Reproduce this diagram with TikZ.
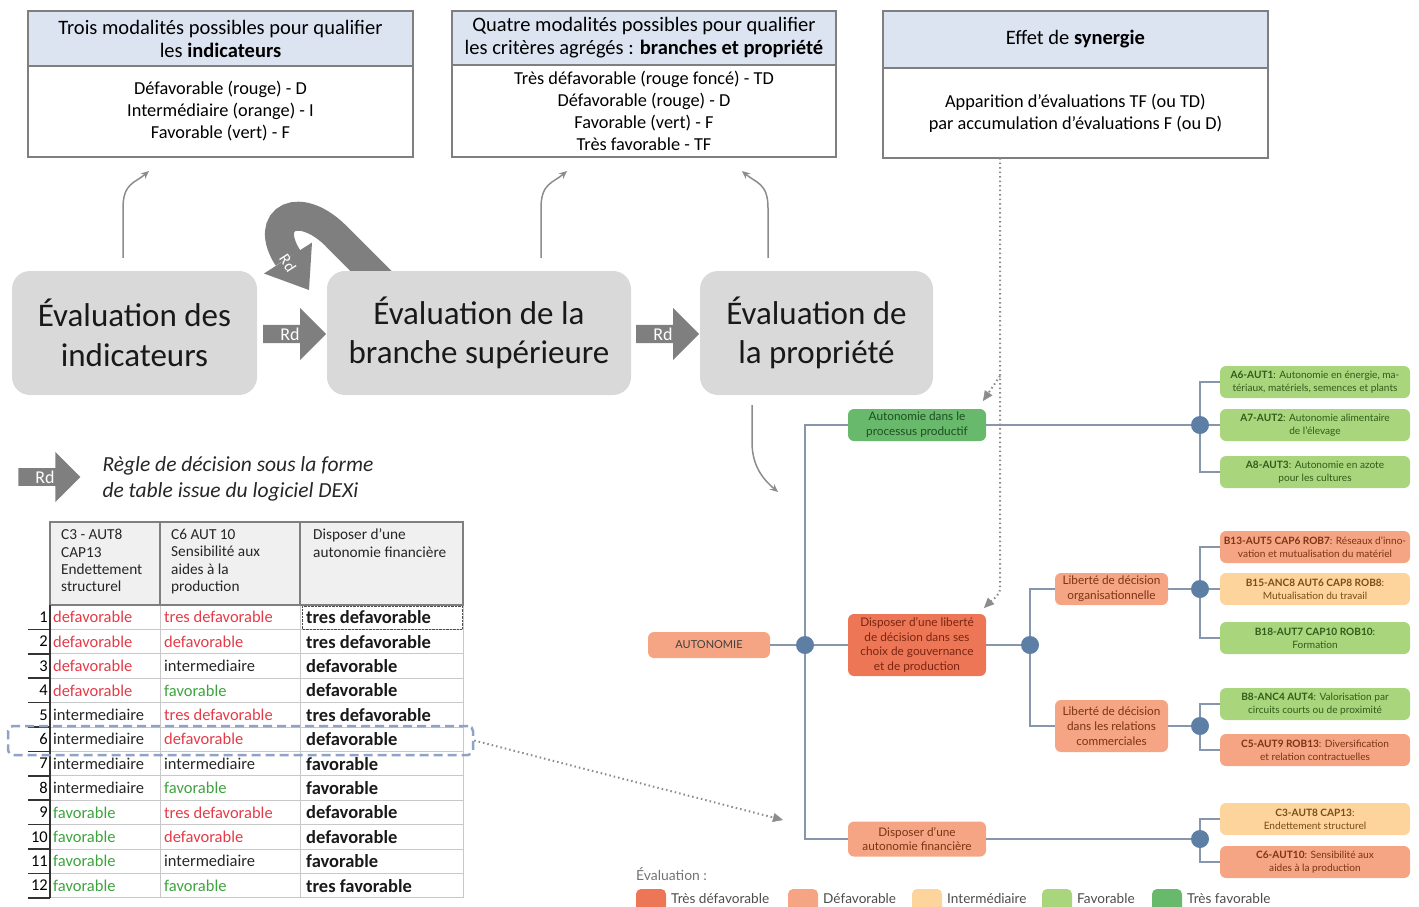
\documentclass[tikz,border=0pt]{standalone}
\usepackage{fontspec}
\setmainfont{Carlito}
\newfontfamily\treefont{Lato}
\usepackage{xcolor}
\usepackage{tikz}
\usetikzlibrary{shapes.geometric, shapes.arrows, arrows.meta, positioning}

\definecolor{boxgrey}{HTML}{7F7F7F}
\definecolor{headblue}{HTML}{DCE3F1}
\definecolor{evalgrey}{HTML}{D9D9D9}
\definecolor{rdgrey}{HTML}{7F7F7F}
\definecolor{linkgrey}{HTML}{8C8C8C}
\definecolor{tdcol}{HTML}{EC7656}
\definecolor{dcol}{HTML}{F5A584}
\definecolor{icol}{HTML}{FDD49B}
\definecolor{fcol}{HTML}{A9D67C}
\definecolor{tfcol}{HTML}{68B96C}
\definecolor{tdtext}{HTML}{7B2511}
\definecolor{dtext}{HTML}{7B3414}
\definecolor{itext}{HTML}{7A4D14}
\definecolor{ftext}{HTML}{2F5C1A}
\definecolor{tftext}{HTML}{1F4D22}
\definecolor{treeline}{HTML}{8797AB}
\definecolor{juncblue}{HTML}{5D7FA6}
\definecolor{tabred}{HTML}{E33B48}
\definecolor{tabgreen}{HTML}{3DA33D}
\definecolor{gridgrey}{HTML}{C8C8C8}
\definecolor{hlblue}{HTML}{8FA3C6}

\begin{document}
\begin{tikzpicture}[x=1pt, y=-1pt,
    hdrbox/.style={draw=boxgrey, line width=2pt, outer sep=0pt, fill=headblue, align=center, font=\fontsize{20.5}{23}\selectfont},
    txtbox/.style={draw=boxgrey, line width=2pt, outer sep=0pt, fill=white, align=center, font=\fontsize{18.3}{22}\selectfont},
    evalbox/.style={fill=evalgrey, rounded corners=18pt, minimum height=124pt, align=center, text=black!90, font=\fontsize{33}{39.5}\selectfont},
    rdarrow/.style={single arrow, fill=rdgrey, text=white, single arrow head extend=12pt, minimum width=52pt, minimum height=63pt, inner sep=0pt, font=\fontsize{18}{18}\selectfont},
    bendarrow/.style={linkgrey, line width=1.5pt, -{Stealth[length=8pt,width=7pt]}},
    dotarrow/.style={linkgrey, line width=2pt, dash pattern=on 1.5pt off 3pt, -{Triangle[length=10pt,width=9pt,line width=0.5pt]}},
    cell/.style={anchor=west, inner sep=0pt, font=\fontsize{16.5}{16.5}\selectfont},
    hdrtxt/.style={anchor=north west, align=left, inner sep=0pt, text=black!85, font=\fontsize{15.3}{17.4}\selectfont},
    tnode/.style={rounded corners=6pt, align=center, inner sep=2pt, font=\treefont\fontsize{11.8}{14.8}\selectfont},
    leaf/.style={rounded corners=6pt, minimum width=190pt, minimum height=32pt, align=center, inner sep=0pt, font=\treefont\fontsize{10.1}{13}\selectfont},
    evTD/.style={fill=tdcol, text=tdtext},
    evD/.style={fill=dcol, text=dtext},
    evI/.style={fill=icol, text=itext},
    evF/.style={fill=fcol, text=ftext},
    evTF/.style={fill=tfcol, text=tftext},
    tline/.style={treeline, line width=1.2pt},
    junc/.style={circle, fill=juncblue, minimum size=18pt, inner sep=0pt}
]
\useasboundingbox (0,0) rectangle (1419,906);

\node[hdrbox, minimum width=385pt, minimum height=55pt] (h1) at (220.5,38.5) {Trois modalités possibles pour qualifier\\les \textbf{indicateurs}};
\node[txtbox, minimum width=385pt, minimum height=91pt, below=0pt of h1] (b1) {Défavorable (rouge) - D\\Intermédiaire (orange) - I\\Favorable (vert) - F};

\node[hdrbox, minimum width=384pt, minimum height=54pt] (h2) at (644,38) {Quatre modalités possibles pour qualifier\\les critères agrégés : \textbf{branches et propriété}};
\node[txtbox, minimum width=384pt, minimum height=92pt, below=0pt of h2] (b2) {Très défavorable (rouge foncé) - TD\\Défavorable (rouge) - D\\Favorable (vert) - F\\Très favorable - TF};

\node[hdrbox, minimum width=385pt, minimum height=57pt] (h3) at (1075.5,39.5) {Effet de \textbf{synergie}};
\node[txtbox, minimum width=385pt, minimum height=90pt, below=0pt of h3] (b3) {Apparition d’évaluations TF (ou TD)\\par accumulation d’évaluations F (ou D)};

\draw[rdgrey, line width=29pt] (392,292) -- (338,238) .. controls (300,198) and (262,218) .. (288,258);
\fill[rdgrey] (312,242.5) -- (309,290) -- (264,273.5) -- cycle;

\node[evalbox, minimum width=245pt] (A) at (134.5,333) {Évaluation des\\indicateurs};
\node[evalbox, minimum width=304pt] (B) at (479,333) {Évaluation de la\\branche supérieure};
\node[evalbox, minimum width=233pt] (C) at (816.5,333) {Évaluation de\\la propriété};

\node[rotate=-57, text=white, inner sep=0pt, font=\fontsize{16}{16}\selectfont] (rdu) at (288,263) {Rd};
\node[rdarrow] (rd1) at (290,334) {Rd};
\node[rdarrow] (rd2) at (663,334) {Rd};

\coordinate (s1) at (123,208);
\coordinate (t1) at (149,171);
\coordinate (s2) at (541,208);
\coordinate (t2) at (567,171);
\coordinate (s3) at (768,208);
\coordinate (t3) at (742,171);
\coordinate (s4) at (752,442);
\coordinate (t4) at (778,492);
\draw[bendarrow, shorten <=13pt] (A.north -| s1) -- (s1) .. controls +(0,-25) and +(-14,12) .. (t1);
\draw[bendarrow, shorten <=13pt] (B.north -| s2) -- (s2) .. controls +(0,-25) and +(-14,12) .. (t2);
\draw[bendarrow, shorten <=13pt] (C.north -| s3) -- (s3) .. controls +(0,-25) and +(14,12) .. (t3);
\draw[bendarrow, shorten <=10pt] (C.south -| s4) -- (s4) .. controls +(0,25) and +(-14,-12) .. (t4);

\node[rdarrow, minimum width=50pt, minimum height=62pt] (rdl) at (45,477) {Rd};
\node[anchor=west, align=left, text=black!85, font=\fontsize{21.5}{26}\selectfont\itshape] (rdtxt) at (99,479) {Règle de décision sous la forme\\de table issue du logiciel DEXi};

\fill[black!6] (50,522) rectangle (463,605);
\foreach \i in {0,...,12}
  \draw[gridgrey, line width=1pt] (50,{605+24.4*\i}) -- (463,{605+24.4*\i});
\foreach \xx in {160,300,463}
  \draw[gridgrey, line width=1pt] (\xx,605) -- (\xx,898);
\draw[boxgrey, line width=1.2pt] (50,522) rectangle (463,605);
\draw[boxgrey, line width=1.2pt] (160,522) -- (160,605);
\draw[boxgrey, line width=1.2pt] (300,522) -- (300,605);
\draw[black!80, line width=2pt] (50,605) -- (50,898);
\foreach \i in {1,...,12}
  \draw[black!80, line width=1.5pt] (28,{605+24.4*\i}) -- (50,{605+24.4*\i});
\draw[black!70, densely dotted] (302,606) rectangle (462,629);

\node[hdrtxt] (hc1) at (61,529) {C3 - AUT8\\CAP13\\Endettement\\structurel};
\node[hdrtxt] (hc2) at (171,529) {C6 AUT 10\\Sensibilité aux\\aides à la\\production};
\node[hdrtxt] (hc3) at (313,529) {Disposer d’une\\autonomie financière};

\foreach \n/\a/\ca/\b/\cb/\c in {
    1/defavorable/tabred/tres defavorable/tabred/tres defavorable,
    2/defavorable/tabred/defavorable/tabred/tres defavorable,
    3/defavorable/tabred/intermediaire/black!85/defavorable,
    4/defavorable/tabred/favorable/tabgreen/defavorable,
    5/intermediaire/black!85/tres defavorable/tabred/tres defavorable,
    6/intermediaire/black!85/defavorable/tabred/defavorable,
    7/intermediaire/black!85/intermediaire/black!85/favorable,
    8/intermediaire/black!85/favorable/tabgreen/favorable,
    9/favorable/tabgreen/tres defavorable/tabred/defavorable,
    10/favorable/tabgreen/defavorable/tabred/defavorable,
    11/favorable/tabgreen/intermediaire/black!85/favorable,
    12/favorable/tabgreen/favorable/tabgreen/tres favorable}{
  \node[anchor=east, inner sep=0pt, font=\fontsize{16.5}{16.5}\selectfont] (rowno\n) at (48,{605+24.4*(\n-0.5)}) {\n};
  \node[cell, text=\ca] (tA\n) at (53,{605+24.4*(\n-0.5)}) {\a};
  \node[cell, text=\cb] (tB\n) at (164,{605+24.4*(\n-0.5)}) {\b};
  \node[cell, text=black!90, font=\fontsize{18.5}{18.5}\selectfont\bfseries] (tC\n) at (306,{605+24.4*(\n-0.5)}) {\c};
}

\node[draw=hlblue, line width=2.5pt, dash pattern=on 9pt off 5pt, rounded corners=5pt, minimum width=465pt, minimum height=29pt, inner sep=0pt] (hl) at (240.5,740.5) {};
\coordinate (e1) at (783,820);
\draw[dotarrow] (hl.east) -- (e1);

\node[tnode, evD, text=black!75, font=\treefont\fontsize{11}{11}\selectfont, minimum width=122pt, minimum height=26pt] (auto) at (709,645) {AUTONOMIE};
\node[junc] (j1) at (805,645) {};
\node[tnode, evTF, minimum width=138pt, minimum height=32pt] (proc) at (917,425) {Autonomie dans le\\processus productif};
\node[tnode, evTD, minimum width=138pt, minimum height=62pt] (lib) at (917,645) {Disposer d’une liberté\\de décision dans ses\\choix de gouvernance\\et de production};
\node[tnode, evD, minimum width=138pt, minimum height=35pt] (fin) at (917,839) {Disposer d’une\\autonomie financière};
\node[junc] (j3) at (1030,645) {};
\node[tnode, evD, minimum width=113pt, minimum height=32pt] (org) at (1111.5,589) {Liberté de décision\\organisationnelle};
\node[tnode, evD, minimum width=113pt, minimum height=52pt] (rel) at (1111.5,726) {Liberté de décision\\dans les relations\\commerciales};
\node[junc] (j2) at (1200,425) {};
\node[junc] (j4) at (1200,589) {};
\node[junc] (j5) at (1200,726) {};
\node[junc] (j6) at (1200,839) {};

\node[leaf, evF] (a6) at (1315,382) {\textbf{A6-AUT1}: Autonomie en énergie, ma-\\tériaux, matériels, semences et plants};
\node[leaf, evF] (a7) at (1315,425) {\textbf{A7-AUT2}: Autonomie alimentaire\\de l’élevage};
\node[leaf, evF] (a8) at (1315,472) {\textbf{A8-AUT3}: Autonomie en azote\\pour les cultures};
\node[leaf, evD] (b13) at (1315,547) {\textbf{B13-AUT5 CAP6 ROB7}: Réseaux d’inno-\\vation et mutualisation du matériel};
\node[leaf, evI] (b15) at (1315,589) {\textbf{B15-ANC8 AUT6 CAP8 ROB8}:\\Mutualisation du travail};
\node[leaf, evF] (b18) at (1315,638) {\textbf{B18-AUT7 CAP10 ROB10}:\\Formation};
\node[leaf, evF] (b8) at (1315,704) {\textbf{B8-ANC4 AUT4}: Valorisation par\\circuits courts ou de proximité};
\node[leaf, evD] (c5) at (1315,750) {\textbf{C5-AUT9 ROB13}: Diversification\\et relation contractuelles};
\node[leaf, evI] (c3) at (1315,819) {\textbf{C3-AUT8 CAP13}:\\Endettement structurel};
\node[leaf, evD] (c6) at (1315,862) {\textbf{C6-AUT10}: Sensibilité aux\\aides à la production};

\draw[tline] (auto) -- (j1);
\draw[tline] (j1) |- (proc);
\draw[tline] (j1) -- (lib);
\draw[tline] (j1) |- (fin);
\draw[tline] (proc) -- (j2);
\draw[tline] (lib) -- (j3);
\draw[tline] (j3) |- (org);
\draw[tline] (j3) |- (rel);
\draw[tline] (fin) -- (j6);
\draw[tline] (org) -- (j4);
\draw[tline] (rel) -- (j5);
\draw[tline] (j2) |- (a6);
\draw[tline] (j2) -- (a7);
\draw[tline] (j2) |- (a8);
\draw[tline] (j4) |- (b13);
\draw[tline] (j4) -- (b15);
\draw[tline] (j4) |- (b18);
\draw[tline] (j5) |- (b8);
\draw[tline] (j5) |- (c5);
\draw[tline] (j6) |- (c3);
\draw[tline] (j6) |- (c6);

\coordinate (d1) at (1000,588);
\coordinate (d2) at (984,608);
\coordinate (d3) at (1000,376);
\coordinate (d4) at (983,401);
\draw[dotarrow] (b3.south -| d1) -- (d1) .. controls +(0,8) and +(8,-8) .. (d2);
\draw[dotarrow] (d3) -- (d4);

\node[anchor=west, inner sep=0pt, text=black!55, font=\treefont\fontsize{13.9}{13.9}\selectfont] (evl) at (636,874) {Évaluation :};
\foreach \xx/\col/\lab in {636/tdcol/Très défavorable, 788/dcol/Défavorable, 912/icol/Intermédiaire, 1042/fcol/Favorable, 1152/tfcol/Très favorable}{
  \fill[\col, rounded corners=5pt] (\xx,889) rectangle ++(30,26);
  \node[anchor=west, inner sep=0pt, text=black!70, font=\treefont\fontsize{13.6}{13.6}\selectfont] (lg\xx) at (\xx+35,899) {\lab};
}
\end{tikzpicture}
\end{document}
